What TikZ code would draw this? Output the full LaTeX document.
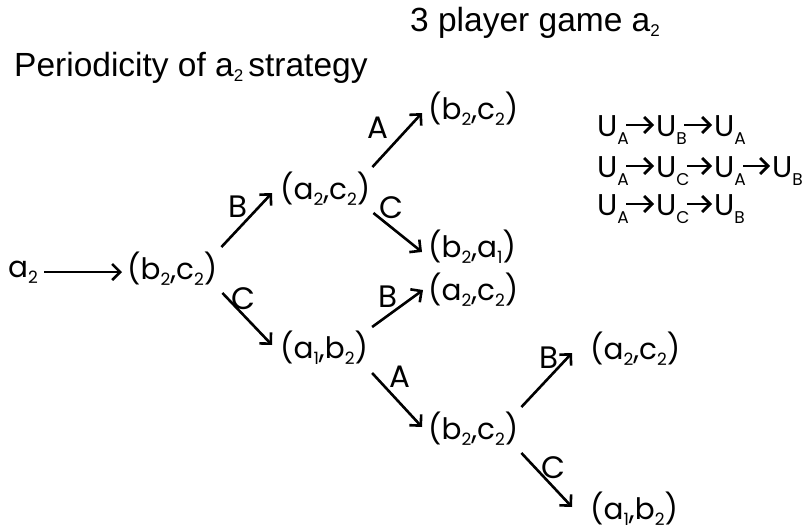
\documentclass[tikz,border=0pt]{standalone}
\usepackage{fontspec}
\setmainfont{Liberation Sans}
\newfontfamily\geo{Poppins}
\usetikzlibrary{arrows.meta}
\newcommand\tsb[1]{\raisebox{-5pt}{\fontsize{17}{17}\selectfont #1}}
\newcommand\sbs[1]{\raisebox{-6pt}{\fontsize{17}{17}\selectfont #1}}
\newcommand\usb[1]{\raisebox{-8pt}{\fontsize{17}{17}\selectfont #1}}
\tikzset{
  ttl/.style={font=\fontsize{33.5}{33.5}\selectfont, inner sep=0pt, anchor=base west},
  st/.style={font=\geo\fontsize{29.5}{29.5}\selectfont, inner sep=0pt, anchor=base west},
  lbl/.style={font=\geo\fontsize{31}{31}\selectfont, inner sep=0pt},
  un/.style={font=\geo\fontsize{30}{30}\selectfont, inner sep=0pt, anchor=base west},
  arr/.style={line width=2.6pt, -{Straight Barb[length=8pt,width=16pt,line width=2.6pt]}},
  uarr/.style={line width=2.8pt, -{Straight Barb[length=8pt,width=16pt,line width=2.8pt]}}
}
\begin{document}
\begin{tikzpicture}[x=1pt,y=-1pt]
\useasboundingbox (0,0) rectangle (807,530);
% titles
\node[ttl] (t1) at (410,31) {3 player game a\tsb{2}};
\node[ttl] (t2) at (14,76) {Periodicity of a\tsb{2}\hspace{5pt}strategy};
% states
\node[st] (a2) at (8,277) {a\sbs{2}};
\node[st] (bc1) at (127,279) {(b\sbs{2},c\sbs{2})};
\node[st] (ac1) at (280,199) {(a\sbs{2},c\sbs{2})};
\node[st] (ab1) at (280,358) {(a\sbs{1},b\sbs{2})};
\node[st] (bc2) at (428,119) {(b\sbs{2},c\sbs{2})};
\node[st] (ba) at (428,257) {(b\sbs{2},a\sbs{1})};
\node[st] (ac2) at (428,300) {(a\sbs{2},c\sbs{2})};
\node[st] (bc3) at (428,439) {(b\sbs{2},c\sbs{2})};
\node[st] (ac3) at (590,359) {(a\sbs{2},c\sbs{2})};
\node[st] (ab2) at (590,519) {(a\sbs{1},b\sbs{2})};
% connectors
\draw[arr] ([shift={(6,-5)}]a2.base east) -- ([shift={(-5,-7)}]bc1.base west);
\draw[arr] ([shift={(4,-32)}]bc1.base east) -- ([shift={(-8,-6)}]ac1.base west);
\draw[arr] ([shift={(5,14)}]bc1.base east) -- ([shift={(-8,-13)}]ab1.base west);
\draw[arr] ([shift={(2,-32)}]ac1.base east) -- ([shift={(-6,-6)}]bc2.base west);
\draw[arr] ([shift={(3,14)}]ac1.base east) -- ([shift={(-6,-5)}]ba.base west);
\draw[arr] ([shift={(4,-31)}]ab1.base east) -- ([shift={(-5,-10)}]ac2.base west);
\draw[arr] ([shift={(4,15)}]ab1.base east) -- ([shift={(-6,-12)}]bc3.base west);
\draw[arr] ([shift={(3,-32)}]bc3.base east) -- ([shift={(-18,-6)}]ac3.base west);
\draw[arr] ([shift={(3,14)}]bc3.base east) -- ([shift={(-18,-12)}]ab2.base west);
% labels
\node[lbl] (l1) at (238,207) {B};
\node[lbl] (l2) at (243,299) {C};
\node[lbl] (l3) at (378,128) {A};
\node[lbl] (l4) at (391,208) {C};
\node[lbl] (l5) at (388,297) {B};
\node[lbl] (l6) at (400,377) {A};
\node[lbl] (l7) at (549,358) {B};
\node[lbl] (l8) at (553,468) {C};
% U sequences
\node[un] (u11) at (597,136) {U\usb{A}};
\node[un] (u12) at (656,136) {U\usb{B}};
\node[un] (u13) at (714,136) {U\usb{A}};
\node[un] (u21) at (597,177) {U\usb{A}};
\node[un] (u22) at (656,177) {U\usb{C}};
\node[un] (u23) at (714,177) {U\usb{A}};
\node[un] (u24) at (772,177) {U\usb{B}};
\node[un] (u31) at (597,215) {U\usb{A}};
\node[un] (u32) at (656,215) {U\usb{C}};
\node[un] (u33) at (714,215) {U\usb{B}};
\foreach \p/\q in {u11/u12,u12/u13,u21/u22,u22/u23,u23/u24,u31/u32,u32/u33}
  \draw[uarr] ([shift={(-3,-11)}]\p.base east) -- ([shift={(-2,-11)}]\q.base west);
\end{tikzpicture}
\end{document}
